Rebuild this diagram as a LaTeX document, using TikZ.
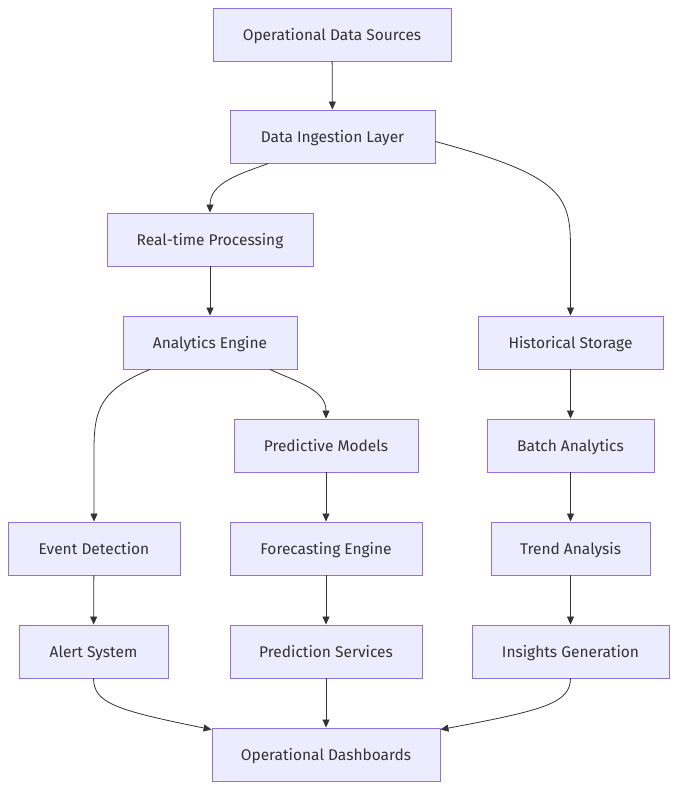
\documentclass[tikz,border=0pt]{standalone}
\usepackage{fontspec}
\setmainfont{Fira Sans}
\usetikzlibrary{arrows.meta}
\definecolor{boxfill}{HTML}{ECECFF}
\definecolor{boxline}{HTML}{9370DB}
\definecolor{ink}{HTML}{333333}
\tikzset{
  box/.style={draw=boxline, fill=boxfill, line width=0.9pt, text=ink,
    minimum height=53pt, inner xsep=0pt, text height=12pt, text depth=1pt,
    font=\fontsize{15.5}{18}\selectfont},
  arr/.style={draw=ink, line width=0.8pt, -{Triangle[length=8pt,width=7pt]}}
}
\begin{document}
\begin{tikzpicture}[x=1pt,y=-1pt]
\useasboundingbox (0,0) rectangle (685,798);

\node[box, minimum width=238pt] (src) at (332,34.5) {Operational Data Sources};
\node[box, minimum width=205pt] (ing) at (332.5,136.5) {Data Ingestion Layer};
\node[box, minimum width=206pt] (rt) at (210,239.5) {Real-time Processing};
\node[box, minimum width=174pt] (ana) at (210,342.5) {Analytics Engine};
\node[box, minimum width=185pt] (hist) at (570.5,342.5) {Historical Storage};
\node[box, minimum width=184pt] (pred) at (326,445.5) {Predictive Models};
\node[box, minimum width=167pt] (batch) at (570.5,445.5) {Batch Analytics};
\node[box, minimum width=172pt] (event) at (94,548.5) {Event Detection};
\node[box, minimum width=192pt] (fore) at (326,548.5) {Forecasting Engine};
\node[box, minimum width=159pt] (trend) at (570.5,548.5) {Trend Analysis};
\node[box, minimum width=149pt] (alert) at (93.5,651.5) {Alert System};
\node[box, minimum width=192pt] (psvc) at (326,651.5) {Prediction Services};
\node[box, minimum width=197pt] (ins) at (570.5,651.5) {Insights Generation};
\node[box, minimum width=228pt] (dash) at (326,754.5) {Operational Dashboards};

\draw[arr] (src) -- (ing);
\draw[arr] ([xshift=-64pt]ing.south) to[out=-160,in=90] (rt.north);
\draw[arr] ([yshift=-5pt]ing.east) .. controls (560,175) and (570,195) .. (hist.north |- 0,245) -- (hist.north);
\draw[arr] (rt) -- (ana);
\draw[arr] ([xshift=-60pt]ana.south) .. controls (100,390) and (94,410) .. (event.north |- 0,450) -- (event.north);
\draw[arr] ([xshift=60pt]ana.south) to[out=-25,in=90] (pred.north);
\draw[arr] (hist) -- (batch);
\draw[arr] (pred) -- (fore);
\draw[arr] (batch) -- (trend);
\draw[arr] (event) -- (alert);
\draw[arr] (fore) -- (psvc);
\draw[arr] (trend) -- (ins);
\draw[arr] (alert.south) .. controls (94,703) and (115,710) .. ([yshift=-2pt]dash.north west);
\draw[arr] (psvc) -- (dash);
\draw[arr] (ins.south) .. controls (570,703) and (545,710) .. ([yshift=-2pt]dash.north east);

\end{tikzpicture}
\end{document}
